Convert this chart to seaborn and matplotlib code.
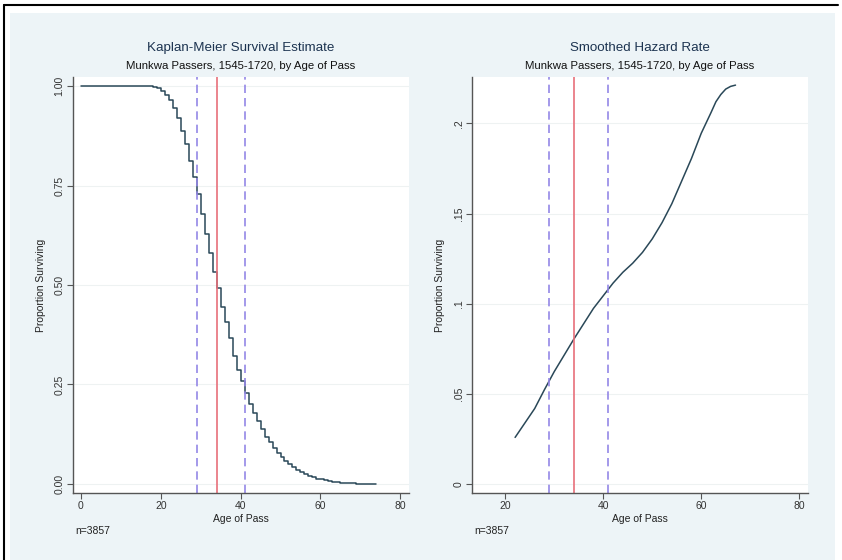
import numpy as np
import pandas as pd
import matplotlib
matplotlib.use("Agg")
import matplotlib.pyplot as plt
import seaborn as sns

# Kaplan-Meier survival estimate, value after each yearly step
km_age = [0, 17, 18, 19, 20, 21, 22, 23, 24, 25, 26, 27, 28, 29, 30, 31, 32, 33, 34,
          35, 36, 37, 38, 39, 40, 41, 42, 43, 44, 45, 46, 47, 48, 49, 50, 51, 52, 53,
          54, 55, 56, 57, 58, 59, 60, 61, 62, 63, 64, 65, 66, 67, 68, 69, 70, 71, 72,
          73, 74]
km_surv = [1.0, 1.0, 0.998, 0.995, 0.988, 0.978, 0.965, 0.945, 0.920, 0.888, 0.854,
           0.812, 0.771, 0.729, 0.678, 0.628, 0.581, 0.533, 0.492, 0.444, 0.406, 0.366,
           0.322, 0.286, 0.259, 0.228, 0.201, 0.178, 0.157, 0.137, 0.119, 0.104, 0.090,
           0.077, 0.067, 0.058, 0.049, 0.042, 0.035, 0.029, 0.024, 0.020, 0.016, 0.013,
           0.011, 0.009, 0.007, 0.005, 0.004, 0.003, 0.002, 0.0015, 0.001, 0.0007,
           0.0005, 0.0003, 0.0002, 0.0001, 0.0]

# Smoothed hazard rate
hz_age = [22, 24, 26, 28, 30, 32, 34, 36, 38, 40, 42, 44, 46, 48, 50, 52, 54, 56,
          58, 60, 62, 63, 64, 65, 66, 67]
hz_rate = [0.0260, 0.0340, 0.0420, 0.0525, 0.0625, 0.0715, 0.0805, 0.0890, 0.0975,
           0.1045, 0.1115, 0.1175, 0.1225, 0.1285, 0.1360, 0.1450, 0.1555, 0.1680,
           0.1805, 0.1945, 0.2060, 0.2120, 0.2160, 0.2190, 0.2205, 0.2212]

lower_age, median_age, upper_age = 29, 34, 41
n_obs = 3857

km = pd.DataFrame({"age": km_age, "surv": km_surv})
hz = pd.DataFrame({"age": hz_age, "rate": hz_rate})

sns.set_theme(style="white")
plt.rcParams["font.family"] = ["Liberation Sans", "DejaVu Sans"]

W, H = 842, 560
bg = "#EDF4F7"
line_col = "#2A4858"
red = "#E8707A"
purple = "#9487E6"


def fx(px):
    return px / W


def fy(py):
    return 1 - py / H


fig = plt.figure(figsize=(W / 100, H / 100), dpi=100, facecolor="white")
fig.patches.append(plt.Rectangle((fx(10), 0), fx(825), fy(13), transform=fig.transFigure,
                                 facecolor=bg, edgecolor="none", zorder=-5))
fig.lines.append(plt.Line2D([fx(4), fx(838)], [fy(5), fy(5)], transform=fig.transFigure,
                            color="black", lw=1.5, zorder=-4))
fig.lines.append(plt.Line2D([fx(4), fx(4)], [fy(5), 0], transform=fig.transFigure,
                            color="black", lw=1.5, zorder=-4))

ax1 = fig.add_axes([fx(73), fy(493), fx(336), 416 / H])
ax2 = fig.add_axes([fx(472), fy(493), fx(336), 416 / H])

sns.lineplot(data=km, x="age", y="surv", ax=ax1, color=line_col, lw=1.1,
             drawstyle="steps-post", estimator=None)
sns.lineplot(data=hz, x="age", y="rate", ax=ax2, color=line_col, lw=1.1, estimator=None)

for ax in (ax1, ax2):
    ax.axvline(lower_age, color=purple, lw=1.2, ls=(0, (5, 3)))
    ax.axvline(median_age, color=red, lw=1.2)
    ax.axvline(upper_age, color=purple, lw=1.2, ls=(0, (5, 3)))

ax1.set_xlim(-2, 82.2)
ax1.set_ylim(-0.023, 1.023)
ax1.set_xticks([0, 20, 40, 60, 80])
ax1.set_yticks([0, 0.25, 0.5, 0.75, 1.0])
ax1.set_yticklabels(["0.00", "0.25", "0.50", "0.75", "1.00"])

ax2.set_xlim(13.2, 81.8)
ax2.set_ylim(-0.0048, 0.2257)
ax2.set_xticks([20, 40, 60, 80])
ax2.set_yticks([0, 0.05, 0.1, 0.15, 0.2])
ax2.set_yticklabels(["0", ".05", ".1", ".15", ".2"])

titles = ["Kaplan-Meier Survival Estimate", "Smoothed Hazard Rate"]
for ax, title, left in ((ax1, titles[0], 73), (ax2, titles[1], 472)):
    ax.set_facecolor("white")
    for s in ("top", "right"):
        ax.spines[s].set_visible(False)
    for s in ("left", "bottom"):
        ax.spines[s].set_color("#555555")
        ax.spines[s].set_linewidth(1.0)
    ax.grid(axis="y", color="#EEF2F2", lw=0.8)
    ax.tick_params(axis="both", which="major", length=4, width=0.8, color="#555555",
                   labelsize=7.5, labelcolor="#333333", pad=2, bottom=True, left=True)
    plt.setp(ax.get_yticklabels(), rotation=90, va="center")
    ax.set_xlabel("Age of Pass", fontsize=7.5, color="#222222", labelpad=2)
    ax.set_ylabel("Proportion Surviving", fontsize=7.5, color="#222222", labelpad=6)
    cx = left + 168
    fig.text(fx(cx), fy(48), title, ha="center", va="center", fontsize=9.6,
             color="#1C3350")
    fig.text(fx(cx), fy(66), "Munkwa Passers, 1545-1720, by Age of Pass",
             ha="center", va="center", fontsize=8.2, color="#111111")
    fig.text(fx(left + 2), fy(531), f"n={n_obs}", ha="left", va="center",
             fontsize=7.5, color="#222222")

fig.savefig("out.png", dpi=100, facecolor="white")
